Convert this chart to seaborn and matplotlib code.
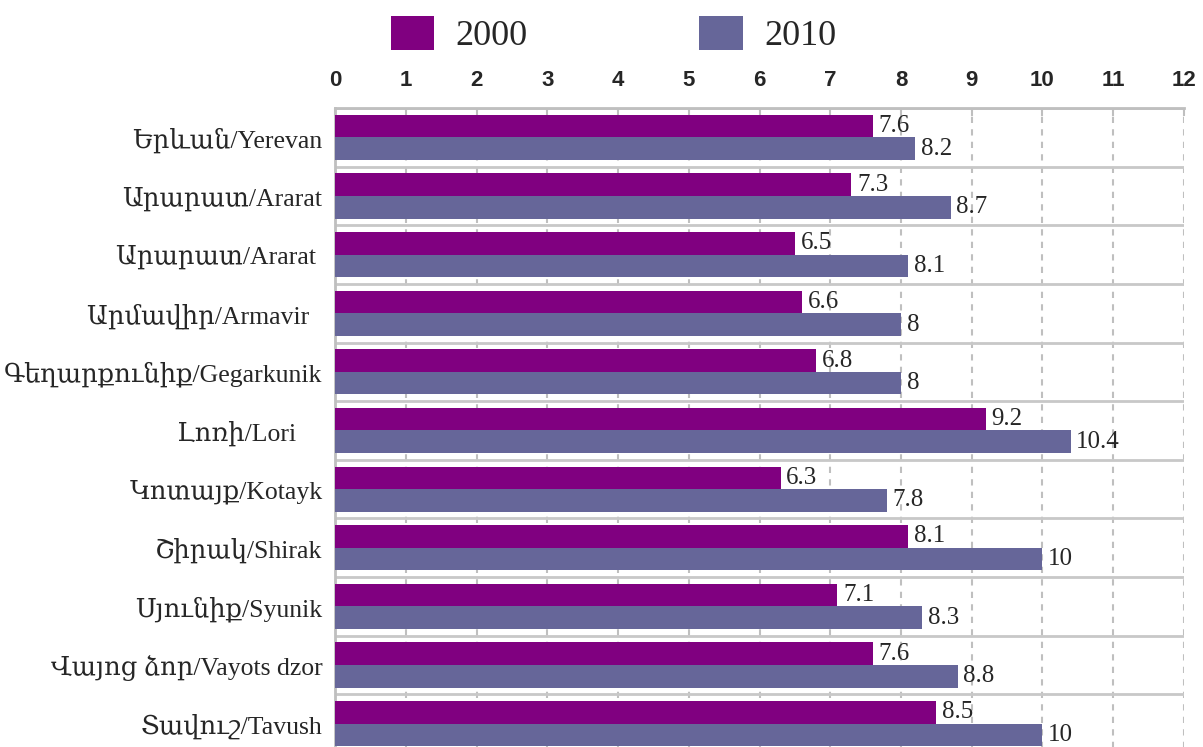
import numpy as np
import pandas as pd
import seaborn as sns
import matplotlib.pyplot as plt

# Regions (trailing spaces keep the duplicate "Ararat" rows apart, as in the source)
regions = [
    "Երևան/Yerevan",
    "Արարատ/Ararat",
    "Արարատ/Ararat ",
    "Արմավիր/Armavir  ",
    "Գեղարքունիք/Gegarkunik",
    "Լոռի/Lori    ",
    "Կոտայք/Kotayk",
    "Շիրակ/Shirak",
    "Սյունիք/Syunik",
    "Վայոց ձոր/Vayots dzor",
    "Տավուշ/Tavush",
]
values_2000 = [7.6, 7.3, 6.5, 6.6, 6.8, 9.2, 6.3, 8.1, 7.1, 7.6, 8.5]
values_2010 = [8.2, 8.7, 8.1, 8, 8, 10.4, 7.8, 10, 8.3, 8.8, 10]
years = ["2000", "2010"]
colors = ["#800080", "#666699"]
x_ticks = list(range(0, 13))

df = pd.DataFrame({
    "region": regions * 2,
    "value": values_2000 + values_2010,
    "year": [years[0]] * len(regions) + [years[1]] * len(regions),
})

sns.set_style("white")
serif = ["Liberation Serif", "DejaVu Serif", "DejaVu Sans"]
plt.rcParams["font.family"] = serif

fig = plt.figure(figsize=(12.03, 7.47), dpi=100)
ax = fig.add_axes([0.2785, -0.008, 0.7057, 0.8634])

sns.barplot(data=df, y="region", x="value", hue="year", orient="h",
            palette=colors, width=0.77, saturation=1, ax=ax, zorder=3,
            edgecolor="none", linewidth=0)

# value labels at bar ends
for cont, vals in zip(ax.containers, [values_2000, values_2010]):
    ax.bar_label(cont, labels=[f"{v:g}" for v in vals], padding=4,
                 fontsize=18, family=serif, zorder=4)

ax.set_xlim(0, 12)
ax.set_ylim(len(regions) - 0.5, -0.5)
ax.set_xlabel("")
ax.set_ylabel("")

# x axis on top
ax.xaxis.tick_top()
ax.set_xticks(x_ticks)
ax.set_xticklabels([str(t) for t in x_ticks], family=["Liberation Sans", "DejaVu Sans"],
                   fontweight="bold", fontsize=16)
ax.tick_params(axis="x", direction="in", length=6, width=1.5, color="#bfbfbf", pad=12)
ax.tick_params(axis="y", length=0, pad=9, labelsize=18.5)
for lab in ax.get_yticklabels():
    lab.set_family(serif)

# gridlines: dashed vertical, solid separators between regions
ax.grid(axis="x", linestyle=(0, (3, 3)), color="#bfbfbf", linewidth=1.5, zorder=0)
ax.set_yticks(np.arange(-0.5, len(regions), 1), minor=True)
ax.grid(axis="y", which="minor", linestyle="-", color="#c8c8c8", linewidth=2, zorder=0)
ax.grid(axis="y", which="major", visible=False)
ax.tick_params(axis="y", which="minor", length=0)
ax.set_axisbelow(True)

for side in ["right", "bottom"]:
    ax.spines[side].set_visible(False)
for side in ["top", "left"]:
    ax.spines[side].set_color("#bfbfbf")
    ax.spines[side].set_linewidth(2)

sns.move_legend(ax, "upper center", bbox_to_anchor=(0.51, 1.012),
                bbox_transform=fig.transFigure, ncol=2, frameon=False, title=None,
                fontsize=26, handlelength=1.2, handleheight=1.05,
                handletextpad=0.6, columnspacing=4.75, borderaxespad=0.3)

fig.savefig("out.png", dpi=100)
